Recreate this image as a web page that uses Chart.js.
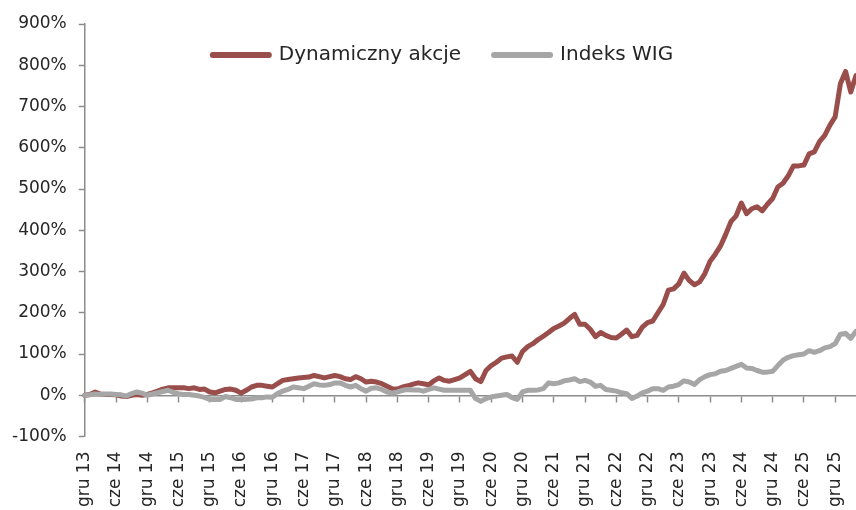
<!DOCTYPE html>
<html>
<head>
<meta charset="utf-8">
<script src="https://cdn.jsdelivr.net/npm/chart.js@4"></script>
<style>
  html, body { margin: 0; padding: 0; background: #fff; }
  #wrap { width: 856px; height: 510px; }
</style>
</head>
<body>
<div id="wrap"><canvas id="chart"></canvas></div>
<script>
// miesiace od grudnia 2013, co miesiac
var monthNames = ["sty", "lut", "mar", "kwi", "maj", "cze", "lip", "sie", "wrz", "paź", "lis", "gru"];
var firstYear = 13;
var monthCount = 149;

// wartosci (%)
var dynamiczny = [
  0, 2, 8, 3, 2, 2, 1, -2, -3, 0, 2, 0,
  2, 6, 10, 15, 18, 18, 18, 18, 16, 18, 14, 15,
  8, 6, 10, 14, 15, 12, 5, 12, 20, 24, 24, 22,
  20, 28, 36, 38, 40, 42, 43, 44, 48, 45, 42, 45,
  48, 45, 40, 38, 45, 40, 32, 34, 32, 28, 22, 16,
  15, 20, 23, 27, 30, 28, 25, 35, 42, 36, 34, 38,
  42, 50, 58, 40, 33, 60, 72, 80, 90, 93, 95, 80,
  106, 118, 125, 135, 143, 152, 162, 168, 175, 186, 196, 172,
  172, 160, 142, 152, 145, 140, 139, 148, 158, 142, 145, 165,
  176, 180, 200, 220, 255, 258, 270, 296, 278, 268, 275, 295,
  325, 342, 362, 390, 421, 435, 466, 440, 452, 457, 447, 463,
  477, 505, 514, 532, 556, 556, 558, 585, 590, 615, 630, 655,
  675, 755, 785, 735, 775
];
var wig = [
  0, 1, 3, 2, 3, 3, 2, 1, -2, 4, 8, 5,
  0, 3, 6, 9, 12, 7, 4, 2, 2, 0, -2, -5,
  -10, -10, -10, -3, -6, -10, -10, -10, -9, -6, -6, -4,
  -5, 4, 10, 14, 20, 18, 16, 22, 28, 25, 24, 26,
  30, 30, 24, 20, 24, 16, 10, 17, 18, 14, 8, 5,
  8, 12, 14, 13, 13, 10, 14, 18, 15, 12, 12, 12,
  12, 12, 12, -8, -15, -8, -4, -2, 0, 2, -6, -10,
  8, 12, 12, 13, 16, 30, 28, 30, 35, 37, 40, 33,
  36, 32, 22, 24, 14, 12, 10, 6, 4, -8, -2, 6,
  10, 16, 16, 12, 20, 22, 26, 35, 32, 26, 38, 45,
  50, 52, 58, 60, 65, 70, 75, 66, 65, 60, 56, 56,
  58, 72, 85, 92, 96, 98, 100, 108, 104, 108, 115, 118,
  125, 148, 150, 138, 155
];
var yTicks = [-100, 0, 100, 200, 300, 400, 500, 600, 700, 800, 900];

var labels = [];
for (var i = 0; i < monthCount; i++) {
  var m = (11 + i) % 12;
  var y = firstYear + Math.floor((11 + i) / 12);
  labels.push(monthNames[m] + " " + y);
}

var axisColor = "#8c8c8c";
var textColor = "#262626";
var font = { family: "DejaVu Sans", size: 17 };

function isShown(index) {
  return index % 6 === 0;
}

// legenda lezy na liniach, nie zabiera miejsca wykresowi
var legendOverlay = {
  id: "legendOverlay",
  beforeLayout: function (chart) {
    var lg = chart.legend;
    if (lg && !lg._patched) {
      var fit = lg.fit;
      lg.fit = function () {
        fit.call(this);
        this._realHeight = this.height;
        this.height = 0;
      };
      lg._patched = true;
    }
  },
  afterLayout: function (chart) {
    var lg = chart.legend;
    if (lg && lg._realHeight) {
      lg.top = 12;
      lg.height = lg._realHeight;
      lg.bottom = lg.top + lg.height;
      lg.left = 30;
      lg.width = lg.right - lg.left;
    }
  }
};

var config = {
  type: "line",
  data: {
    labels: labels,
    datasets: [{
      label: "Indeks WIG",
      data: wig,
      borderColor: "#a6a6a6",
      backgroundColor: "#a6a6a6",
      borderWidth: 5,
      borderCapStyle: "round",
      borderJoinStyle: "round",
      pointRadius: 0,
      tension: 0
    }, {
      label: "Dynamiczny akcje",
      data: dynamiczny,
      borderColor: "#9a4e4b",
      backgroundColor: "#9a4e4b",
      borderWidth: 5,
      borderCapStyle: "round",
      borderJoinStyle: "round",
      pointRadius: 0,
      tension: 0
    }]
  },
  plugins: [legendOverlay],
  options: {
    responsive: true,
    maintainAspectRatio: false,
    animation: false,
    layout: { padding: { top: 24, left: 0, right: 0, bottom: 2 } },
    plugins: {
      tooltip: { enabled: false },
      legend: {
        position: "top",
        align: "center",
        reverse: true,
        labels: {
          color: textColor,
          font: { family: "DejaVu Sans", size: 20 },
          usePointStyle: true,
          pointStyle: "line",
          pointStyleWidth: 56,
          padding: 33,
          generateLabels: function (chart) {
            var items = Chart.defaults.plugins.legend.labels.generateLabels(chart);
            items.forEach(function (it) {
              it.lineWidth = 6;
              it.lineCap = "round";
            });
            return items;
          }
        }
      }
    },
    scales: {
      x: {
        type: "category",
        position: "bottom",
        offset: false,
        grid: { display: false, drawTicks: false },
        border: { display: false },
        afterFit: function (scale) {
          scale.paddingRight = 0;
          scale.paddingLeft = 0;
          scale.height = 71.5;
        },
        ticks: {
          autoSkip: false,
          minRotation: 90,
          maxRotation: 90,
          padding: 15,
          color: textColor,
          font: font,
          callback: function (value, index) {
            return isShown(index) ? this.getLabelForValue(value) : "";
          }
        }
      },
      x2: {
        type: "category",
        axis: "x",
        position: { y: 0 },
        offset: false,
        ticks: { display: false },
        grid: {
          drawOnChartArea: false,
          drawTicks: true,
          tickLength: 6,
          tickWidth: 1.5,
          tickColor: function (ctx) {
            return isShown(ctx.index) ? axisColor : "rgba(0,0,0,0)";
          }
        },
        border: { display: true, color: axisColor, width: 1.5 }
      },
      y: {
        min: -100,
        max: 900,
        afterBuildTicks: function (scale) {
          scale.ticks = yTicks.map(function (v) { return { value: v }; });
        },
        grid: {
          drawOnChartArea: false,
          drawTicks: true,
          tickLength: 6,
          tickWidth: 1.5,
          tickColor: axisColor
        },
        border: { display: true, color: axisColor, width: 1.5 },
        ticks: {
          padding: 12,
          color: textColor,
          font: font,
          callback: function (v) { return v + "%"; }
        }
      }
    }
  }
};

var chart = new Chart(document.getElementById("chart"), config);
</script>
</body>
</html>
